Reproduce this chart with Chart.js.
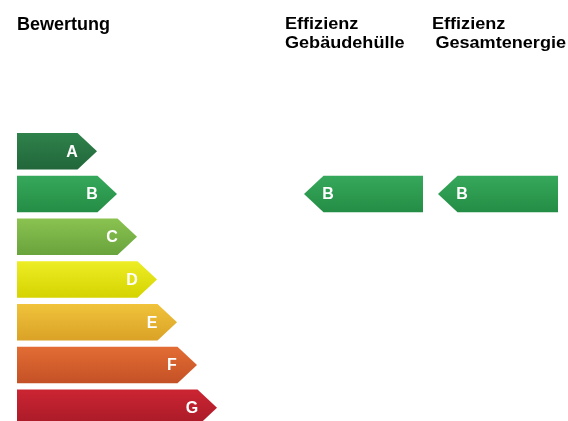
<!DOCTYPE html>
<html lang="de">
<head>
<meta charset="utf-8">
<title>Bewertung</title>
<script src="https://cdn.jsdelivr.net/npm/chart.js@4.4.1/dist/chart.umd.min.js"></script>
<style>
    html, body { margin: 0; padding: 0; background: #fff; overflow: hidden; }
    #wrap { position: relative; width: 568px; height: 429px; }
    .head {
        position: absolute;
        font-family: "Liberation Sans", Arial, sans-serif;
        font-weight: bold;
        color: #000;
        white-space: nowrap;
    }
    .col { font-size: 16px; line-height: 19px; transform: scaleX(1.13); transform-origin: left top; }
    .col span { display: block; }
</style>
</head>
<body>
<div id="wrap">
    <div class="head" id="head-scale" style="left:17px; top:14px; font-size:18px; line-height:20px;"></div>
    <div class="head col" id="head-0" style="left:285px; top:14px;"></div>
    <div class="head col" id="head-1" style="left:432px; top:14px;"></div>
    <canvas id="chart"></canvas>
</div>
<script>
// Efficiency classes, best to worst
const classes = ['A', 'B', 'C', 'D', 'E', 'F', 'G'];
// Arrow length of each class on the scale (in scale units)
const classLengths = [4, 5, 6, 7, 8, 9, 10];
// Rated class for each indicator
const ratingNames = ['Effizienz Gebäudehülle', 'Effizienz Gesamtenergie'];
const ratings = ['B', 'B'];
const scaleTitle = 'Bewertung';

// layout / style (not data)
const TIP = 19.5;                      // arrow tip depth in px
const columnFrom = [14.35, 21.05];     // where each rating arrow starts on x
const columnTo = [20.3, 27.05];
const headIndent = [0, 3];             // second header line shift, px
const classColors = [
    ['#2f824b', '#21663a'],
    ['#36a85b', '#248d45'],
    ['#8bc351', '#68a33c'],
    ['#eded26', '#d5d300'],
    ['#f0c33b', '#daa226'],
    ['#e36d34', '#c45126'],
    ['#cc2532', '#a81a28']
];
const FONT = '"Liberation Sans", Arial, sans-serif';

// headers
document.getElementById('head-scale').textContent = scaleTitle;
ratingNames.forEach((name, i) => {
    const parts = name.split(' ');
    const el = document.getElementById('head-' + i);
    const l1 = document.createElement('span');
    l1.textContent = parts[0];
    const l2 = document.createElement('span');
    l2.textContent = parts.slice(1).join(' ');
    l2.style.marginLeft = headIndent[i] + 'px';
    el.appendChild(l1);
    el.appendChild(l2);
});

/**
 * Draws every bar as an arrow (pointing right on the scale,
 * pointing left for the ratings) with a vertical gradient.
 */
const arrowPlugin = {
    id: 'arrows',
    afterDatasetsDraw(chart) {
        const ctx = chart.ctx;
        chart.data.datasets.forEach((ds, di) => {
            const meta = chart.getDatasetMeta(di);
            meta.data.forEach((bar, i) => {
                const { x, y, base, height } = bar.getProps(['x', 'y', 'base', 'height'], true);
                const left = Math.min(x, base), right = Math.max(x, base);
                const top = y - height / 2, bottom = y + height / 2;
                const cls = ds.classOf(i);
                const cols = classColors[classes.indexOf(cls)];

                const grad = ctx.createLinearGradient(0, top, 0, bottom);
                grad.addColorStop(0, cols[0]);
                grad.addColorStop(1, cols[1]);

                ctx.save();
                ctx.fillStyle = grad;
                ctx.beginPath();
                if (ds.pointTo === 'right') {
                    ctx.moveTo(left, top);
                    ctx.lineTo(right - TIP, top);
                    ctx.lineTo(right, y);
                    ctx.lineTo(right - TIP, bottom);
                    ctx.lineTo(left, bottom);
                } else {
                    ctx.moveTo(left, y);
                    ctx.lineTo(left + TIP, top);
                    ctx.lineTo(right, top);
                    ctx.lineTo(right, bottom);
                    ctx.lineTo(left + TIP, bottom);
                }
                ctx.closePath();
                ctx.fill();

                ctx.fillStyle = '#fff';
                ctx.font = 'bold 16px ' + FONT;
                ctx.textAlign = 'center';
                ctx.textBaseline = 'middle';
                const lx = ds.pointTo === 'right' ? right - 25 : left + 24;
                ctx.fillText(cls, lx, y + 1);
                ctx.restore();
            });
        });
    }
};

const datasets = [{
    label: scaleTitle,
    data: classes.map((c, i) => ({ y: c, x: classLengths[i] })),
    pointTo: 'right',
    classOf: (i) => classes[i]
}];
ratings.forEach((r, k) => {
    datasets.push({
        label: ratingNames[k],
        data: [{ y: r, x: [columnFrom[k], columnTo[k]] }],
        pointTo: 'left',
        classOf: () => r
    });
});
datasets.forEach(ds => {
    ds.backgroundColor = 'rgba(0,0,0,0)';
    ds.borderWidth = 0;
    ds.grouped = false;
    ds.barPercentage = 0.855;
    ds.categoryPercentage = 1;
});

new Chart(document.getElementById('chart'), {
    type: 'bar',
    data: { labels: classes, datasets },
    options: {
        indexAxis: 'y',
        responsive: true,
        maintainAspectRatio: false,
        animation: false,
        layout: { padding: { top: 130, left: 17, right: 1, bottom: 0 } },
        plugins: {
            legend: { display: false },
            tooltip: { enabled: false }
        },
        scales: {
            x: { type: 'linear', min: 0, max: 27.5, display: false },
            y: { type: 'category', display: false, offset: true }
        }
    },
    plugins: [arrowPlugin]
});
</script>
</body>
</html>
